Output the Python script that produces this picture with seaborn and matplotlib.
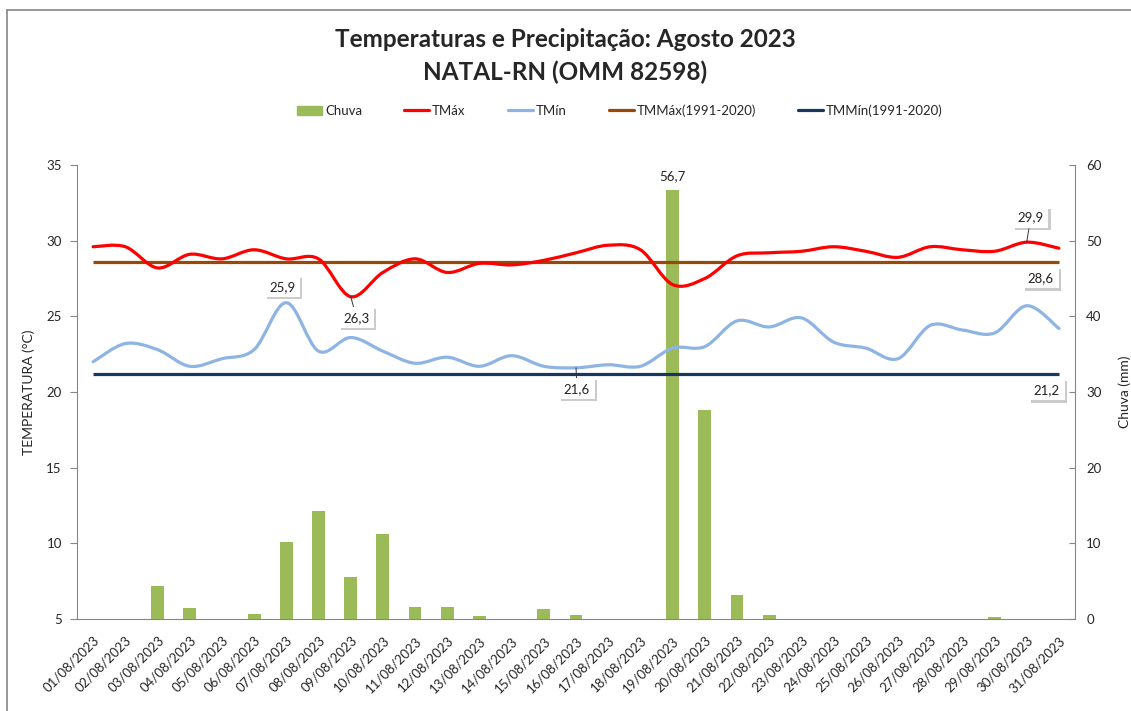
import numpy as np
import pandas as pd
import seaborn as sns
import matplotlib.pyplot as plt
from matplotlib.path import Path
from matplotlib.patches import PathPatch, Patch
from matplotlib.lines import Line2D
import matplotlib.patheffects as pe

# dados - agosto 2023, Natal-RN
dias = ['01/08/2023', '02/08/2023', '03/08/2023', '04/08/2023', '05/08/2023', '06/08/2023',
        '07/08/2023', '08/08/2023', '09/08/2023', '10/08/2023', '11/08/2023', '12/08/2023',
        '13/08/2023', '14/08/2023', '15/08/2023', '16/08/2023', '17/08/2023', '18/08/2023',
        '19/08/2023', '20/08/2023', '21/08/2023', '22/08/2023', '23/08/2023', '24/08/2023',
        '25/08/2023', '26/08/2023', '27/08/2023', '28/08/2023', '29/08/2023', '30/08/2023',
        '31/08/2023']
chuva = [0, 0, 4.4, 1.4, 0, 0.7, 10.2, 14.3, 5.6, 11.2, 1.6, 1.6, 0.4, 0, 1.3, 0.5,
         0, 0, 56.7, 27.6, 3.2, 0.5, 0, 0, 0, 0, 0, 0, 0.3, 0, 0]
tmax = [29.6, 29.6, 28.2, 29.1, 28.8, 29.4, 28.8, 28.8, 26.3, 27.9, 28.8, 27.9, 28.5, 28.4,
        28.7, 29.2, 29.7, 29.4, 27.1, 27.5, 29.0, 29.2, 29.3, 29.6, 29.3, 28.9, 29.6, 29.4,
        29.3, 29.9, 29.5]
tmin = [22.0, 23.2, 22.8, 21.7, 22.2, 22.8, 25.9, 22.7, 23.6, 22.7, 21.9, 22.3, 21.7, 22.4,
        21.7, 21.6, 21.8, 21.7, 22.9, 23.0, 24.7, 24.3, 24.9, 23.3, 22.9, 22.2, 24.4, 24.1,
        23.9, 25.7, 24.2]
tmmax_normal = 28.6
tmmin_normal = 21.2

df = pd.DataFrame({'dia': dias, 'chuva': chuva, 'tmax': tmax, 'tmin': tmin})

sns.set_style('white')
plt.rcParams['font.family'] = ['Lato', 'DejaVu Sans']

VERDE = '#9BBB59'
VERMELHO = '#FF0000'
AZUL = '#8EB4E3'
MARROM = '#984807'
MARINHO = '#17375E'
CINZA = '#868686'


def virg(v):
    return f'{v:.1f}'.replace('.', ',')


def linha_suave(ax, y, cor, lw=2.3):
    # curva suavizada (bezier) passando pelos pontos, como no excel
    p = np.column_stack([np.arange(len(y)), y]).astype(float)
    n = len(p)
    verts = [p[0]]
    codes = [Path.MOVETO]
    for i in range(n - 1):
        pm = p[max(i - 1, 0)]
        p2 = p[min(i + 2, n - 1)]
        verts += [p[i] + (p[i + 1] - pm) / 6, p[i + 1] - (p2 - p[i]) / 6, p[i + 1]]
        codes += [Path.CURVE4] * 3
    ax.add_patch(PathPatch(Path(verts, codes), fill=False, ec=cor, lw=lw,
                           capstyle='round', joinstyle='round', zorder=3))


fig = plt.figure(figsize=(11.31, 7.11), dpi=100)
ax = fig.add_axes([0.0681, 0.1294, 0.8824, 0.6385])
ax2 = ax.twinx()

# chuva (barras) no eixo da direita, atras das linhas
sns.barplot(data=df, x='dia', y='chuva', ax=ax2, color=VERDE, saturation=1,
            width=0.4, edgecolor='none')
ax2.annotate(virg(chuva[18]), (18, chuva[18]), xytext=(0, 14), textcoords='offset pixels',
             ha='center', va='center', fontsize=9.5, color='#222222')
ax.set_zorder(ax2.get_zorder() + 1)
ax.patch.set_visible(False)

linha_suave(ax, tmax, VERMELHO)
linha_suave(ax, tmin, AZUL)
ax.hlines(tmmax_normal, 0, len(dias) - 1, color=MARROM, lw=2.3, zorder=2)
ax.hlines(tmmin_normal, 0, len(dias) - 1, color=MARINHO, lw=2.3, zorder=2)

ax.set_xlim(-0.5, len(dias) - 0.5)
ax.set_ylim(5, 35)
ax2.set_ylim(0, 60)
ax.set_yticks(range(5, 36, 5))
ax2.set_yticks(range(0, 61, 10))
ax.set_xticks(range(len(dias)))
ax.set_xticklabels(dias, rotation=45, ha='right', rotation_mode='anchor', fontsize=9.5)
ax.set_xticks(np.arange(-0.5, len(dias), 1), minor=True)
ax.tick_params(axis='x', which='major', length=0, pad=11)
ax.tick_params(axis='x', which='minor', length=5, color=CINZA, direction='out')
ax.tick_params(axis='y', length=5, color=CINZA, direction='out', labelsize=9.5, pad=6)
ax2.tick_params(axis='y', length=4, color=CINZA, direction='in', labelsize=9.5, pad=8)
ax2.tick_params(axis='x', bottom=False, labelbottom=False)

for s in ['top', 'right']:
    ax.spines[s].set_visible(False)
for s in ['left', 'bottom']:
    ax.spines[s].set_color(CINZA)
for s in ['top', 'left', 'bottom']:
    ax2.spines[s].set_visible(False)
ax2.spines['right'].set_color(CINZA)

ax.set_xlabel('')
ax2.set_xlabel('')
ax.set_ylabel('TEMPERATURA (°C)', fontsize=10)
ax.yaxis.set_label_coords(-0.042, 0.5)
ax2.set_ylabel('Chuva (mm)', fontsize=10)
ax2.yaxis.set_label_coords(1.044, 0.5)


# rotulos com caixa branca e sombra
def rotulo(x, y, txt, dx, dy, seta=False):
    kw = dict(arrowprops=dict(arrowstyle='-', color='#333333', lw=0.7,
                              shrinkA=0, shrinkB=0)) if seta else {}
    a = ax.annotate(txt, (x, y), xytext=(dx, dy), textcoords='offset pixels',
                    ha='center', va='center', fontsize=9.5, color='#222222', zorder=5,
                    bbox=dict(boxstyle='square,pad=0.35', fc='white', ec='none'), **kw)
    a.get_bbox_patch().set_path_effects([pe.SimplePatchShadow(offset=(1.5, -1.5),
                                                              shadow_rgbFace='#999999',
                                                              alpha=0.5),
                                         pe.Normal()])


rotulo(6, tmin[6], virg(tmin[6]), -4, 16)
rotulo(8, tmax[8], virg(tmax[8]), 6, -21, seta=True)
rotulo(15, tmin[15], virg(tmin[15]), 1, -21, seta=True)
rotulo(29, tmax[29], virg(tmax[29]), 4, 25, seta=True)
rotulo(30, tmmax_normal, virg(tmmax_normal), -18, -16)
rotulo(30, tmmin_normal, virg(tmmin_normal), -12, -16)

fig.text(0.4996, 0.9339, 'Temperaturas e Precipitação: Agosto 2023', ha='center',
         va='baseline', fontsize=17.5, fontweight='bold')
fig.text(0.4996, 0.8875, 'NATAL-RN (OMM 82598)', ha='center', va='baseline',
         fontsize=17.5, fontweight='bold')

handles = [Patch(color=VERDE),
           Line2D([], [], color=VERMELHO, lw=2.3),
           Line2D([], [], color=AZUL, lw=2.3),
           Line2D([], [], color=MARROM, lw=2.3),
           Line2D([], [], color=MARINHO, lw=2.3)]
labels = ['Chuva', 'TMáx', 'TMín', 'TMMáx(1991-2020)', 'TMMín(1991-2020)']
fig.legend(handles, labels, loc='center', bbox_to_anchor=(0.548, 0.844), ncol=5,
           frameon=False, fontsize=9.5, handlelength=1.9, handleheight=0.75,
           handletextpad=0.2, columnspacing=3.2)

# moldura da area do grafico
fig.add_artist(Line2D([7 / 1131, 7 / 1131], [0, 1 - 10 / 711], color=CINZA, lw=1.2))
fig.add_artist(Line2D([7 / 1131, 1], [1 - 10 / 711, 1 - 10 / 711], color=CINZA, lw=1.2))

plt.savefig('out.png', dpi=100)
